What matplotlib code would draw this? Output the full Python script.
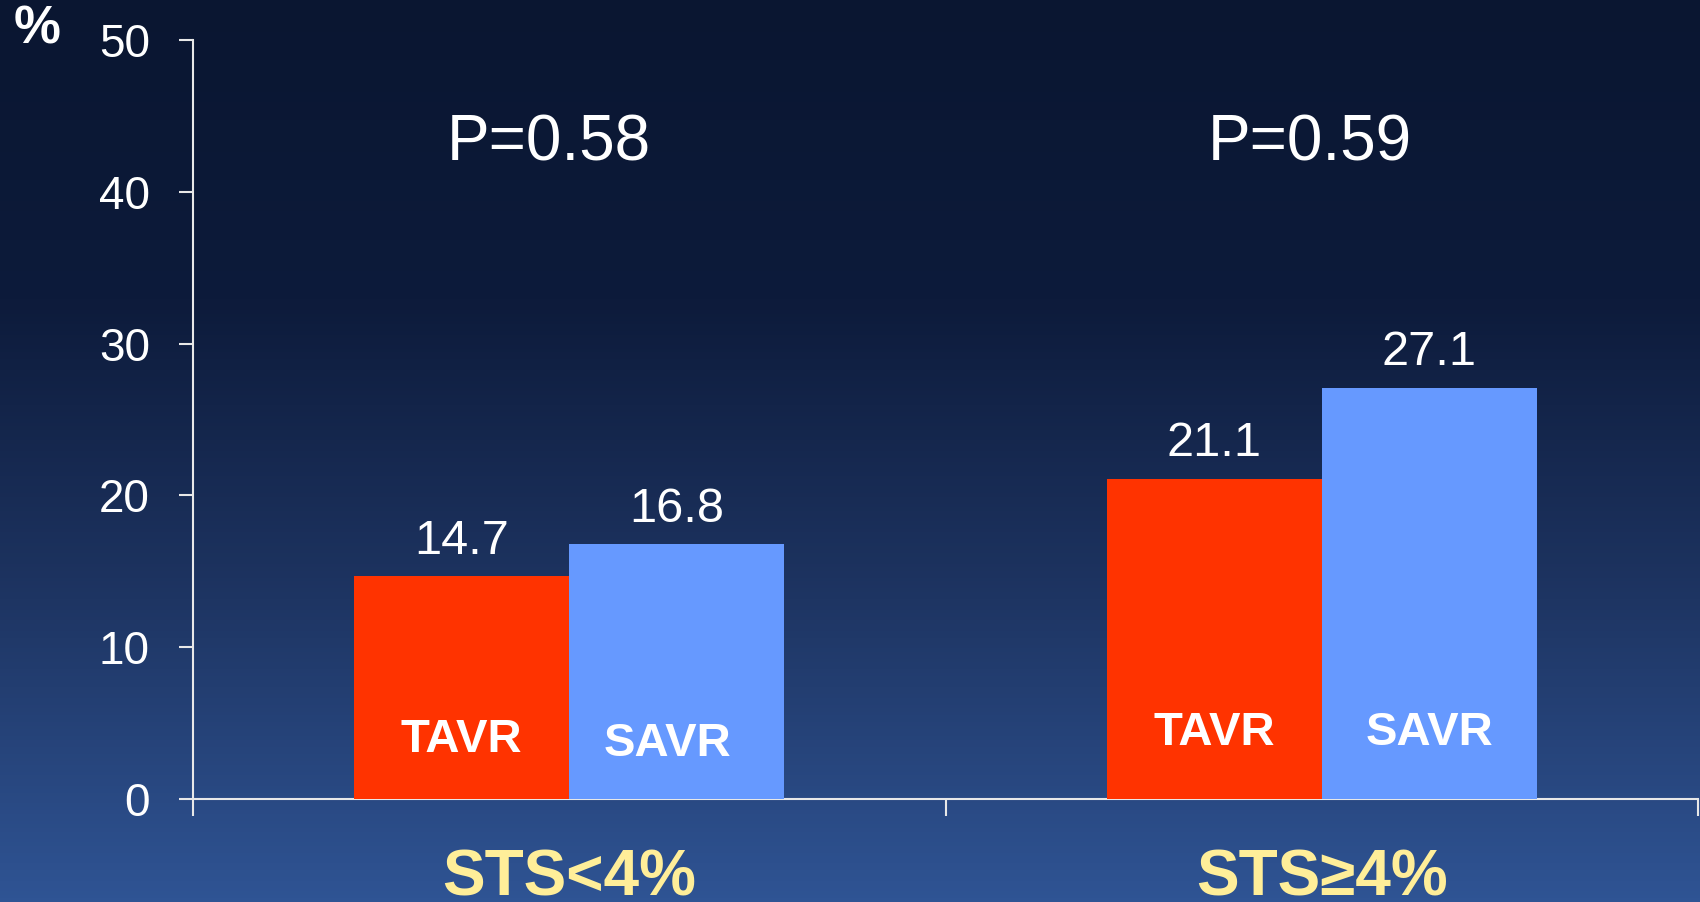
import numpy as np
import matplotlib
matplotlib.use('Agg')
import matplotlib.pyplot as plt
from matplotlib.colors import LinearSegmentedColormap

plt.rcParams['font.family'] = ['Liberation Sans', 'DejaVu Sans']

# data
groups = ['STS<4%', 'STS\u22654%']
tavr = [14.7, 21.1]
savr = [16.8, 27.1]
p_values = ['P=0.58', 'P=0.59']
yticks = [0, 10, 20, 30, 40, 50]

fig = plt.figure(figsize=(17, 9.02), dpi=100)

# background gradient (dark navy on top, lighter blue at the bottom)
bg = fig.add_axes([0, 0, 1, 1], zorder=-10)
cmap = LinearSegmentedColormap.from_list('bg', ['#0a1631', '#0d1b3b', '#1e3563', '#2f5494'])
grad = np.linspace(0, 1, 256).reshape(-1, 1)
bg.imshow(grad, aspect='auto', cmap=cmap, extent=[0, 1, 0, 1])
bg.axis('off')

ax = fig.add_axes([193/1700, 1-799/902, 1505/1700, (799-40)/902])
ax.patch.set_alpha(0)

x = np.arange(len(groups))
w = 0.286
b1 = ax.bar(x - w/2, tavr, w, color='#ff3300', zorder=3)
b2 = ax.bar(x + w/2, savr, w, color='#6699ff', zorder=3)

# value labels above bars
for xi, v in zip(x - w/2, tavr):
    ax.annotate(f'{v}', (xi, v), xytext=(0, 16), textcoords='offset points',
                ha='center', va='baseline', color='white', fontsize=35)
for xi, v in zip(x + w/2, savr):
    ax.annotate(f'{v}', (xi, v), xytext=(0, 16), textcoords='offset points',
                ha='center', va='baseline', color='white', fontsize=35)

# names inside bars
tav_y = [3.9, 4.35]
sav_y = [3.6, 4.35]
for i in range(len(groups)):
    ax.text(x[i] - w/2, tav_y[i], 'TAVR', ha='center', va='center', color='white',
            fontsize=34, fontweight='bold', zorder=4)
    ax.text(x[i] + w/2 - (0.013 if i == 0 else 0), sav_y[i], 'SAVR', ha='center', va='center',
            color='white', fontsize=34, fontweight='bold', zorder=4)

# p values
p_dx = [-0.027, -0.016]
for i, p in enumerate(p_values):
    ax.text(x[i] + p_dx[i], 43.2, p, ha='center', va='center', color='white', fontsize=46)

ax.set_xlim(-0.5, 1.5)
ax.set_ylim(0, 50)
ax.set_yticks(yticks)
ax.set_yticklabels([str(t) for t in yticks], color='white', fontsize=33)
ax.set_xticks([-0.5, 0.5, 1.5])
ax.set_xticklabels([])
ax.tick_params(axis='y', length=10, width=1.5, color='#e8e8e8', pad=21)
ax.tick_params(axis='x', length=12, width=1.5, color='#e8e8e8')
for s in ['top', 'right']:
    ax.spines[s].set_visible(False)
for s in ['left', 'bottom']:
    ax.spines[s].set_color('#e8e8e8')
    ax.spines[s].set_linewidth(1.5)

# category labels (cut at the bottom edge, as in the slide)
for i, g in enumerate(groups):
    xf = (193 + (x[i] + 0.5) * 752.5) / 1700
    fig.text(xf, 6/902, g, ha='center', va='baseline', color='#ffee99',
             fontsize=46, fontweight='bold', family=['Liberation Sans', 'DejaVu Sans'])

fig.text(37/1700, 1-30/902, '%', ha='center', va='center', color='white',
         fontsize=38, fontweight='bold')

fig.savefig('out.png', dpi=100)
